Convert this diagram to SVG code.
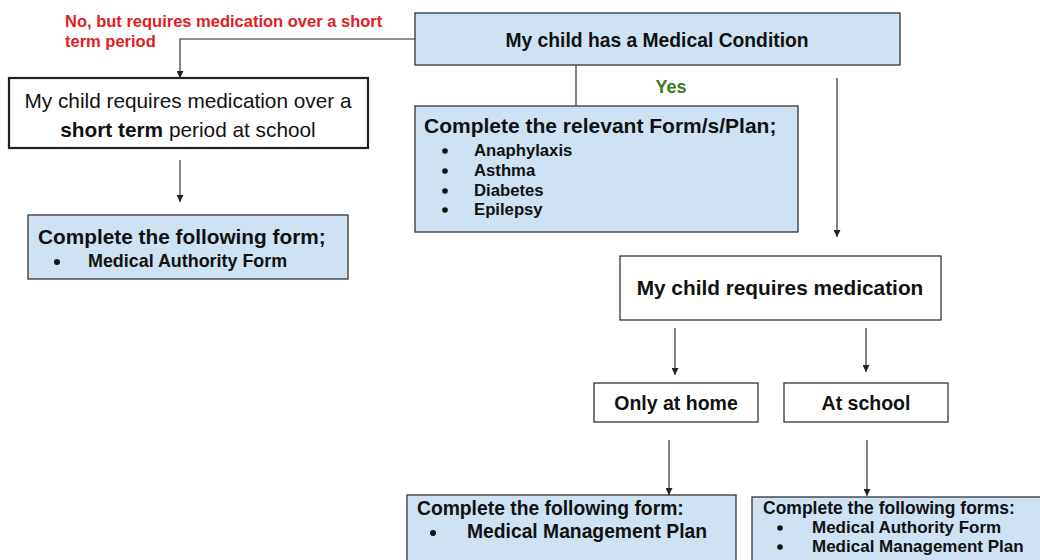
<svg xmlns="http://www.w3.org/2000/svg" width="1040" height="560" viewBox="0 0 1040 560">
<defs>
<marker id="ah" viewBox="0 0 10 10" refX="10" refY="5" markerWidth="7" markerHeight="7" markerUnits="userSpaceOnUse" orient="auto">
<path d="M0,0 L10,5 L0,10 z" fill="#222"/>
</marker>
</defs>
<style>
.blue{fill:#cfe2f3;stroke:#333;stroke-width:1.3}
.white{fill:#fff;stroke:#333;stroke-width:1.3}
.thick{fill:#fff;stroke:#222;stroke-width:2.2}
text{font-family:"Liberation Sans",Arial,sans-serif;fill:#111}
.b{font-weight:bold}
.dot{fill:#111}
.conn{stroke:#222;stroke-width:1.1;fill:none}
</style>
<rect width="1040" height="560" fill="#fff"/>
<g id="connectors">
<polyline class="conn" points="415,39 180,39 180,78" marker-end="url(#ah)"/>
<line class="conn" x1="576" y1="65" x2="576" y2="106"/>
<line class="conn" x1="837" y1="78" x2="837" y2="237" marker-end="url(#ah)"/>
<line class="conn" x1="180" y1="160" x2="180" y2="202" marker-end="url(#ah)"/>
<line class="conn" x1="675" y1="328" x2="675" y2="375" marker-end="url(#ah)"/>
<line class="conn" x1="866" y1="328" x2="866" y2="372" marker-end="url(#ah)"/>
<line class="conn" x1="669" y1="440" x2="669" y2="495" marker-end="url(#ah)"/>
<line class="conn" x1="867" y1="440" x2="867" y2="496" marker-end="url(#ah)"/>
<text x="65" y="27" class="b" font-size="16.5" style="fill:#e0201e">No, but requires medication over a short</text>
<text x="65" y="47" class="b" font-size="16.5" style="fill:#e0201e">term period</text>
<text x="671" y="93" class="b" font-size="18" text-anchor="middle" style="fill:#3a7d22">Yes</text>
</g>
<g id="medical-condition">
<rect class="blue" x="415" y="13" width="485" height="52"/>
<text x="657" y="47" class="b" font-size="19.3" text-anchor="middle">My child has a Medical Condition</text>
</g>
<g id="short-term">
<rect class="thick" x="9" y="78" width="359" height="70"/>
<text x="188" y="108" font-size="20.8" text-anchor="middle">My child requires medication over a</text>
<text x="188" y="137" font-size="20.8" text-anchor="middle"><tspan class="b">short term</tspan> period at school</text>
</g>
<g id="authority-form">
<rect class="blue" x="28" y="215" width="320" height="64"/>
<text x="38" y="244" class="b" font-size="20.8">Complete the following form;</text>
<circle class="dot" cx="57" cy="262" r="3"/>
<text x="88" y="267" class="b" font-size="17.9">Medical Authority Form</text>
</g>
<g id="relevant-forms">
<rect class="blue" x="415" y="106" width="383" height="126"/>
<text x="424" y="133" class="b" font-size="21">Complete the relevant Form/s/Plan;</text>
<circle class="dot" cx="445" cy="151" r="2.8"/>
<text x="474" y="156" class="b" font-size="16.7">Anaphylaxis</text>
<circle class="dot" cx="445" cy="171" r="2.8"/>
<text x="474" y="176" class="b" font-size="16.7">Asthma</text>
<circle class="dot" cx="445" cy="191" r="2.8"/>
<text x="474" y="196" class="b" font-size="16.7">Diabetes</text>
<circle class="dot" cx="445" cy="210" r="2.8"/>
<text x="474" y="215" class="b" font-size="16.7">Epilepsy</text>
</g>
<g id="requires-medication">
<rect class="white" x="620" y="256" width="321" height="64"/>
<text x="780" y="295" class="b" font-size="20.8" text-anchor="middle">My child requires medication</text>
</g>
<g id="only-home">
<rect class="white" x="594" y="383" width="164" height="39"/>
<text x="676" y="410" class="b" font-size="19.5" text-anchor="middle">Only at home</text>
</g>
<g id="at-school">
<rect class="white" x="784" y="383" width="164" height="39"/>
<text x="866" y="410" class="b" font-size="19.5" text-anchor="middle">At school</text>
</g>
<g id="management-plan">
<rect class="blue" x="407" y="495" width="329" height="80"/>
<text x="417" y="515" class="b" font-size="19.3">Complete the following form:</text>
<circle class="dot" cx="433" cy="533" r="3"/>
<text x="467" y="538" class="b" font-size="19.3">Medical Management Plan</text>
</g>
<g id="both-forms">
<rect class="blue" x="752" y="497" width="300" height="80"/>
<text x="763" y="514" class="b" font-size="17.5">Complete the following forms:</text>
<circle class="dot" cx="780" cy="528" r="2.8"/>
<text x="812" y="533" class="b" font-size="17">Medical Authority Form</text>
<circle class="dot" cx="780" cy="547" r="2.8"/>
<text x="812" y="552" class="b" font-size="17">Medical Management Plan</text>
</g>
</svg>
